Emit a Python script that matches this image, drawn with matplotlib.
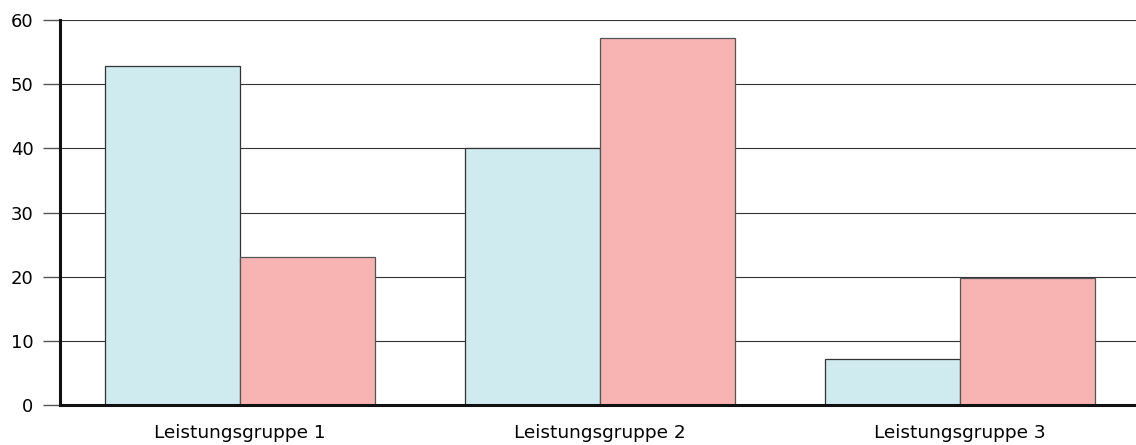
import matplotlib
matplotlib.use('Agg')
import matplotlib.pyplot as plt
import numpy as np

plt.rcParams['font.family'] = ['DejaVu Sans']

groups = ['Leistungsgruppe 1', 'Leistungsgruppe 2', 'Leistungsgruppe 3']
series_a = [52.8, 40.1, 7.2]
series_b = [23.0, 57.2, 19.8]
yticks = [0, 10, 20, 30, 40, 50, 60]

fig = plt.figure(figsize=(11.36, 4.45), dpi=100)
ax = fig.add_axes([60 / 1136, 40 / 445, 1 - 60 / 1136, 385 / 445])

x = np.arange(len(groups))
w = 0.375
ax.bar(x - w / 2, series_a, w, color='#cfebf0', edgecolor='#333333', linewidth=0.9, zorder=3)
ax.bar(x + w / 2, series_b, w, color='#f7b4b3', edgecolor='#555555', linewidth=0.9, zorder=3)

ax.set_xlim(-0.5, 2.49)
ax.set_ylim(0, 60)
ax.set_yticks(yticks)
ax.set_xticks(x)
ax.set_xticklabels(groups, fontsize=13.3)
ax.tick_params(axis='y', labelsize=13, length=12, width=1, color='#555555', pad=7)
ax.tick_params(axis='x', length=0, pad=14)
ax.yaxis.grid(True, color='#333333', linewidth=0.8, zorder=0)
ax.set_axisbelow(True)

for s in ['top', 'right']:
    ax.spines[s].set_visible(False)
ax.spines['left'].set_linewidth(2.2)
ax.spines['bottom'].set_linewidth(2.2)
ax.spines['left'].set_color('#111111')
ax.spines['bottom'].set_color('#111111')
ax.spines['left'].set_zorder(5)
ax.spines['bottom'].set_zorder(5)

fig.savefig('out.png', dpi=100)
